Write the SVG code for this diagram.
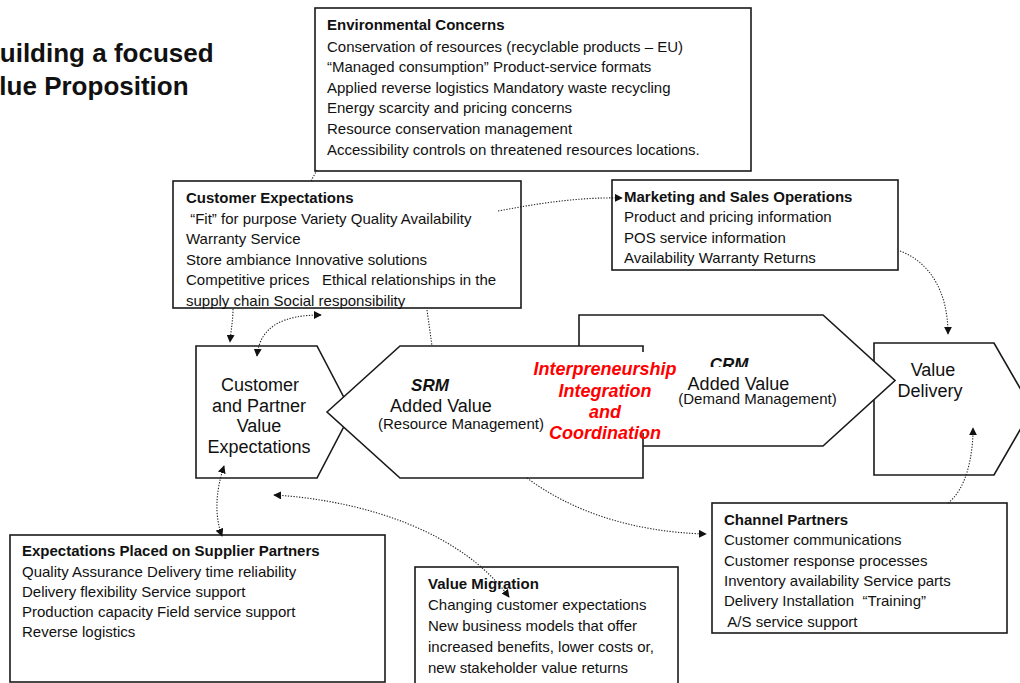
<svg xmlns="http://www.w3.org/2000/svg" width="1020" height="683" viewBox="0 0 1020 683">
<defs>
<marker id="ah" viewBox="0 0 10 10" refX="9" refY="5" markerWidth="8" markerHeight="8" markerUnits="userSpaceOnUse" orient="auto-start-reverse">
<path d="M0,0 L10,5 L0,10 z" fill="#111"/>
</marker>
<style>
text{font-family:"Liberation Sans",Arial,sans-serif;fill:#111;white-space:pre}
.t{font-size:15px}
.b{font-size:15px;font-weight:bold}
.box{fill:#fff;stroke:#1a1a1a;stroke-width:1.6}
.sh{fill:#fff;stroke:#1a1a1a;stroke-width:1.6;stroke-linejoin:miter}
.big{font-size:18px;text-anchor:middle}
.mid{font-size:15px;text-anchor:middle}
.bi{font-size:17px;font-weight:bold;font-style:italic;text-anchor:middle}
.red{font-size:18px;font-weight:bold;font-style:italic;text-anchor:middle;fill:#ff0000}
.title{font-size:26px;font-weight:bold}
.dot{fill:none;stroke:#222;stroke-width:1.1;stroke-dasharray:1.3 1.5}
</style>
</defs>
<rect width="1020" height="683" fill="#fff"/>

<g id="title">
<text class="title" x="-19" y="62">Building a focused</text>
<text class="title" x="-31" y="95">Value Proposition</text>
</g>

<g id="environmental-concerns">
<rect class="box" x="315" y="8" width="436" height="163"/>
<text class="b" x="327" y="30">Environmental Concerns</text>
<text class="t" x="327" y="52">Conservation of resources (recyclable products – EU)</text>
<text class="t" x="327" y="72">“Managed consumption” Product-service formats</text>
<text class="t" x="327" y="93">Applied reverse logistics Mandatory waste recycling</text>
<text class="t" x="327" y="113">Energy scarcity and pricing concerns</text>
<text class="t" x="327" y="134">Resource conservation management</text>
<text class="t" x="327" y="155">Accessibility controls on threatened resources locations.</text>
</g>

<g id="customer-expectations">
<rect class="box" x="173" y="181" width="348" height="127"/>
<text class="b" x="186" y="203">Customer Expectations</text>
<text class="t" x="186" y="224"> “Fit” for purpose Variety Quality Availability</text>
<text class="t" x="186" y="244">Warranty Service</text>
<text class="t" x="186" y="265">Store ambiance Innovative solutions</text>
<text class="t" x="186" y="285">Competitive prices   Ethical relationships in the</text>
<text class="t" x="186" y="306">supply chain Social responsibility</text>
</g>

<g id="marketing-sales">
<rect class="box" x="612" y="180" width="286" height="90"/>
<text class="b" x="624" y="202">Marketing and Sales Operations</text>
<text class="t" x="624" y="222">Product and pricing information</text>
<text class="t" x="624" y="243">POS service information</text>
<text class="t" x="624" y="263">Availability Warranty Returns</text>
</g>

<g id="value-delivery">
<polygon class="sh" points="874,343 994,343 1032,409 994,475 874,475"/>
<text class="big" x="933" y="376">Value</text>
<text class="big" x="930" y="397">Delivery</text>
</g>

<g id="crm">
<polygon class="sh" points="579,315 823,315 895,380.5 823,446 579,446"/>
<text class="bi" x="729" y="370">CRM</text>
</g>

<g id="customer-partner-value">
<polygon class="sh" points="196,346 317,346 351.5,412 317,478 196,478"/>
<text class="big" x="260" y="391">Customer</text>
<text class="big" x="259" y="412">and Partner</text>
<text class="big" x="259" y="432">Value</text>
<text class="big" x="259" y="453">Expectations</text>
</g>

<g id="srm">
<polygon class="sh" points="327,412 400,346 643,346 643,478 400,478"/>
<text class="bi" x="430" y="391">SRM</text>
<text class="big" x="441" y="412">Added Value</text>
<text class="mid" x="461" y="429">(Resource Management)</text>
</g>

<g id="interpreneurship">
<rect x="548" y="352" width="128" height="81" fill="#fff"/>
<text class="red" x="605" y="375">Interpreneurship</text>
<text class="red" x="605" y="397">Integration</text>
<text class="red" x="605" y="418">and</text>
<text class="red" x="605" y="439">Coordination</text>
</g>

<g id="crm-added-value">
<rect x="677" y="367" width="165" height="42" fill="#fff"/>
<text class="big" x="738.5" y="390">Added Value</text>
<text class="mid" x="757.5" y="404">(Demand Management)</text>
</g>

<g id="supplier-expectations">
<rect class="box" x="10" y="535" width="375" height="147"/>
<text class="b" x="22" y="556">Expectations Placed on Supplier Partners</text>
<text class="t" x="22" y="577">Quality Assurance Delivery time reliability</text>
<text class="t" x="22" y="597">Delivery flexibility Service support</text>
<text class="t" x="22" y="617">Production capacity Field service support</text>
<text class="t" x="22" y="637">Reverse logistics</text>
</g>

<g id="value-migration">
<rect class="box" x="415" y="567" width="263" height="130"/>
<text class="b" x="428" y="589">Value Migration</text>
<text class="t" x="428" y="610">Changing customer expectations</text>
<text class="t" x="428" y="631">New business models that offer</text>
<text class="t" x="428" y="652">increased benefits, lower costs or,</text>
<text class="t" x="428" y="673">new stakeholder value returns</text>
</g>

<g id="channel-partners">
<rect class="box" x="712" y="503" width="295" height="130"/>
<text class="b" x="724" y="525">Channel Partners</text>
<text class="t" x="724" y="545">Customer communications</text>
<text class="t" x="724" y="566">Customer response processes</text>
<text class="t" x="724" y="586">Inventory availability Service parts</text>
<text class="t" x="724" y="606">Delivery Installation  “Training”</text>
<text class="t" x="724" y="627"> A/S service support</text>
</g>

<g id="connectors">
<path class="dot" d="M317,170 L311,181"/>
<path class="dot" d="M498,211 C540,203 580,197 622,198" marker-end="url(#ah)"/>
<path class="dot" d="M900,251 C930,262 948,292 948,334" marker-end="url(#ah)"/>
<path class="dot" d="M233,309 C233,320 231,330 230,342" marker-end="url(#ah)"/>
<path class="dot" d="M257,356 C260,325 285,315 321,315" marker-start="url(#ah)" marker-end="url(#ah)"/>
<path class="dot" d="M427,310 L432,346"/>
<path class="dot" d="M224,466 C216,490 214,515 222,536" marker-start="url(#ah)" marker-end="url(#ah)"/>
<path class="dot" d="M274,495 C360,500 460,530 509,597" marker-start="url(#ah)" marker-end="url(#ah)"/>
<path class="dot" d="M527,478 C570,510 630,532 706,534" marker-end="url(#ah)"/>
<path class="dot" d="M948,503 C965,490 973,460 973,428" marker-end="url(#ah)"/>
</g>
</svg>
